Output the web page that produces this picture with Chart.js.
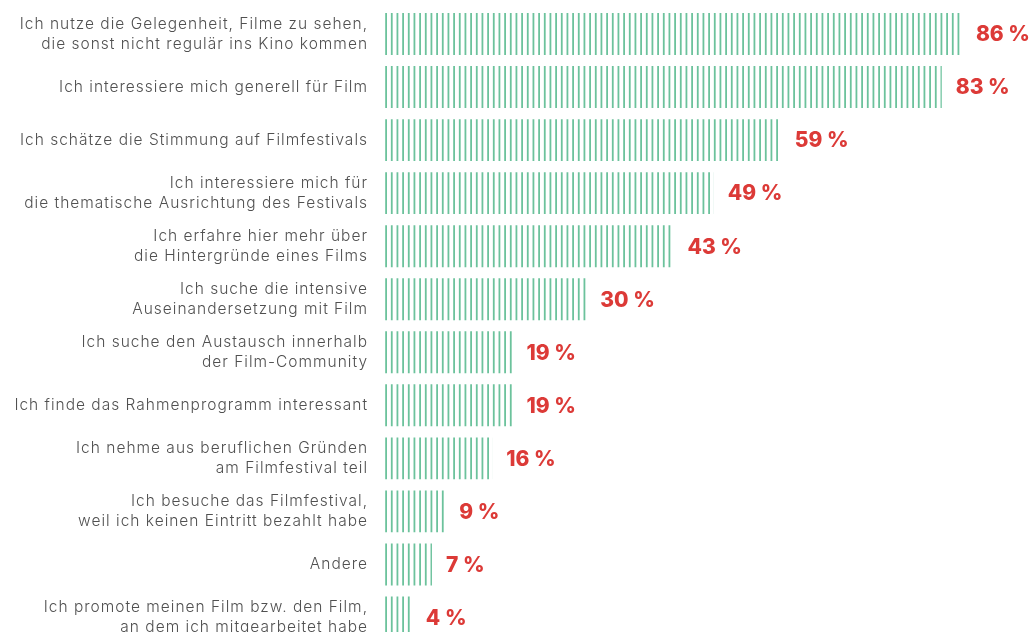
<!DOCTYPE html>
<html>
<head>
<meta charset="utf-8">
<script src="https://cdn.jsdelivr.net/npm/chart.js@4/dist/chart.umd.min.js"></script>
<style>
    html, body { margin: 0; padding: 0; background: #fff; overflow: hidden; }
    #wrap { width: 1035px; height: 644px; }
</style>
</head>
<body>
<div id="wrap"><canvas id="canvas"></canvas></div>
<script>
    var reasons = [
        ["Ich nutze die Gelegenheit, Filme zu sehen,", "die sonst nicht regulär ins Kino kommen"],
        "Ich interessiere mich generell für Film",
        "Ich schätze die Stimmung auf Filmfestivals",
        ["Ich interessiere mich für", "die thematische Ausrichtung des Festivals"],
        ["Ich erfahre hier mehr über", "die Hintergründe eines Films"],
        ["Ich suche die intensive", "Auseinandersetzung mit Film"],
        ["Ich suche den Austausch innerhalb", "der Film-Community"],
        "Ich finde das Rahmenprogramm interessant",
        ["Ich nehme aus beruflichen Gründen", "am Filmfestival teil"],
        ["Ich besuche das Filmfestival,", "weil ich keinen Eintritt bezahlt habe"],
        "Andere",
        ["Ich promote meinen Film bzw. den Film,", "an dem ich mitgearbeitet habe"]
    ];
    var shares = [86, 83, 59, 49, 43, 30, 19, 19, 16, 9, 7, 4];

    // striped fill: 3 thin lines in a 17px tile -> ~5.67px spacing
    function make_stripes(ctx) {
        var tile = document.createElement('canvas');
        tile.width = 17;
        tile.height = 4;
        var t = tile.getContext('2d');
        t.fillStyle = '#6cc29c';
        for (var i = 0; i < 3; i++) {
            t.fillRect(0.2 + i * 17 / 3, 0, 1.8, 4);
        }
        return ctx.createPattern(tile, 'repeat');
    }

    var ctx = document.getElementById('canvas').getContext('2d');
    var stripes = make_stripes(ctx);

    var stripeOffset = {
        id: 'stripeOffset',
        beforeDraw: function (chart) {
            // wider tracking for the question labels
            chart.ctx.letterSpacing = '1px';
        },
        beforeDatasetsDraw: function (chart) {
            stripes.setTransform(new DOMMatrix().translate(chart.chartArea.left, 0));
        }
    };

    var valueLabels = {
        id: 'valueLabels',
        afterDatasetsDraw: function (chart) {
            var c = chart.ctx;
            var meta = chart.getDatasetMeta(0);
            c.save();
            c.letterSpacing = '0px';
            c.font = '800 21px Inter';
            c.fillStyle = '#dc3a37';
            c.textAlign = 'left';
            c.textBaseline = 'middle';
            meta.data.forEach(function (bar, i) {
                c.fillText(shares[i] + ' %', bar.x + 14, bar.y + 1);
            });
            c.restore();
        }
    };

    var myChart = new Chart(ctx, {
        type: 'bar',
        data: {
            labels: reasons,
            datasets: [{
                data: shares,
                backgroundColor: stripes,
                borderWidth: 0,
                categoryPercentage: 1,
                barPercentage: 0.79
            }]
        },
        options: {
            indexAxis: 'y',
            responsive: true,
            maintainAspectRatio: false,
            animation: false,
            layout: { padding: { top: 7.5, bottom: 0, left: 0, right: 0 } },
            plugins: {
                legend: { display: false },
                tooltip: { enabled: false }
            },
            scales: {
                x: {
                    display: false,
                    min: 0,
                    max: 96.9
                },
                y: {
                    grid: { display: false, drawTicks: false },
                    border: { display: false },
                    afterFit: function (scale) {
                        scale.width = 385;
                        scale.paddingTop = 0;
                        scale.paddingBottom = 0;
                    },
                    ticks: {
                        padding: 17,
                        color: '#505050',
                        font: { family: 'Inter', size: 15.5, weight: 300, lineHeight: 1.3 }
                    }
                }
            }
        },
        plugins: [stripeOffset, valueLabels]
    });
</script>
</body>
</html>
